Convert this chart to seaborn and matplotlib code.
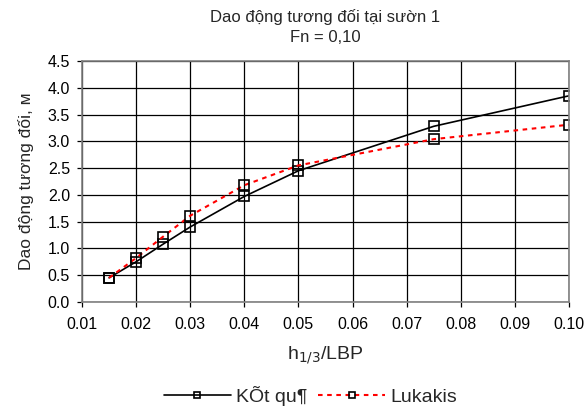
import matplotlib
matplotlib.use("Agg")
import matplotlib.pyplot as plt
import seaborn as sns
import pandas as pd

x_vals = [0.015, 0.02, 0.025, 0.03, 0.04, 0.05, 0.075, 0.10]
ket_qua = [0.45, 0.75, 1.08, 1.40, 1.97, 2.45, 3.28, 3.85]
lukakis = [0.45, 0.82, 1.22, 1.61, 2.18, 2.55, 3.04, 3.31]
series_names = ["KÕt qu¶", "Lukakis"]

df = pd.DataFrame({
    "x": x_vals * 2,
    "y": ket_qua + lukakis,
    "series": [series_names[0]] * len(x_vals) + [series_names[1]] * len(x_vals),
})

sns.set_theme(style="white")
plt.rcParams['font.family'] = ['Liberation Sans', 'DejaVu Sans']

fig = plt.figure(figsize=(5.87, 4.08), dpi=100)
ax = fig.add_axes([0.1397, 0.26, 0.8296, 0.5905])

sns.lineplot(data=df[df.series == series_names[0]], x="x", y="y", ax=ax,
             color="black", lw=1.2, marker="s", markersize=7,
             markerfacecolor="none", markeredgecolor="black", markeredgewidth=1.2,
             label=series_names[0], legend=False)
sns.lineplot(data=df[df.series == series_names[1]], x="x", y="y", ax=ax,
             color="red", lw=1.5, linestyle=(0, (2.2, 2.2)), marker="s", markersize=7,
             markerfacecolor="none", markeredgecolor="black", markeredgewidth=1.2,
             label=series_names[1], legend=False)

ax.set_xlim(0.01, 0.10)
ax.set_ylim(0, 4.5)
ax.set_xticks([0.01 * i for i in range(1, 11)])
ax.set_xticklabels(["%.2f" % (0.01 * i) for i in range(1, 11)])
ax.set_yticks([0.5 * i for i in range(10)])
ax.set_yticklabels(["%.1f" % (0.5 * i) for i in range(10)])
ax.grid(True, color="black", lw=0.9)
for s in ax.spines.values():
    s.set_color("#808080")
    s.set_linewidth(1.2)
ax.tick_params(axis="both", direction="out", length=3.6, width=0.9, colors="black",
               labelsize=11.5, bottom=True, left=True)
ax.tick_params(axis="x", pad=7)
ax.tick_params(axis="y", pad=5)

ax.set_xlabel("h$_{1/3}$/LBP", fontsize=14, labelpad=9)
ax.set_ylabel("Dao động tương đối, м", fontsize=12.5, labelpad=10)
ax.set_title("Dao động tương đối tại sườn 1\nFn = 0,10", fontsize=12, pad=14, linespacing=1.4)

leg = fig.legend(handles=ax.get_lines()[:2], labels=series_names, loc="center",
                 bbox_to_anchor=(0.529, 0.03), ncol=2, frameon=False, fontsize=14,
                 handlelength=3.45, columnspacing=0.57, handletextpad=0.26, markerscale=0.6)

fig.savefig("out.png", dpi=100, facecolor="white")
